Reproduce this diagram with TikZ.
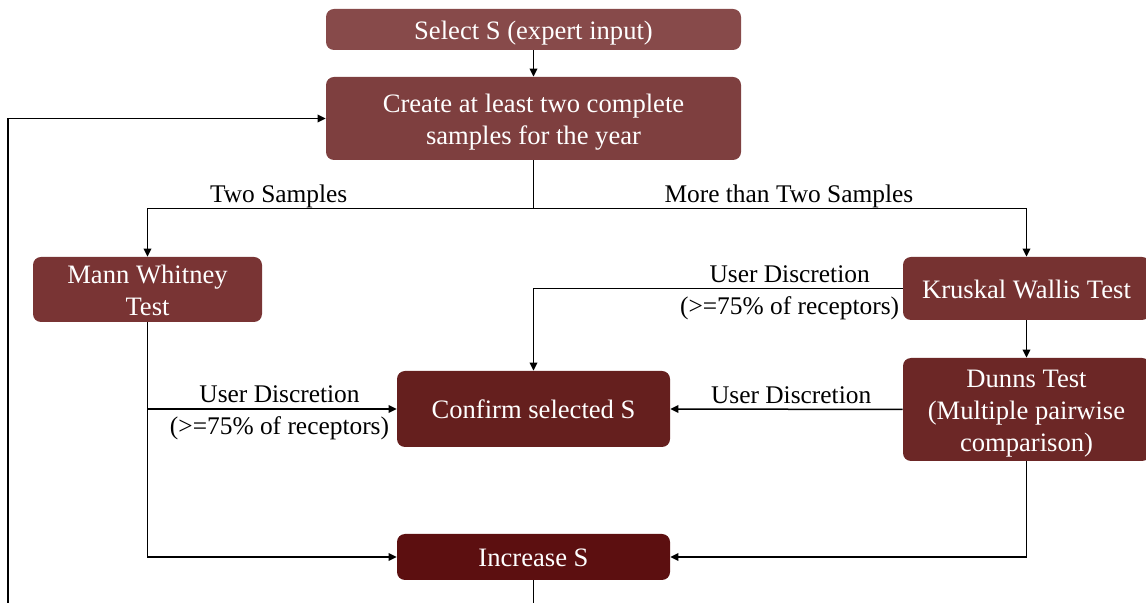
\documentclass[tikz,border=0pt]{standalone}
\usepackage{fontspec}
\setmainfont{Liberation Serif}
\usepackage{tikz}
\usetikzlibrary{arrows.meta}
\colorlet{csel}{rgb,255:red,135;green,74;blue,74}
\colorlet{ccreate}{rgb,255:red,126;green,63;blue,63}
\colorlet{cmann}{rgb,255:red,121;green,52;blue,52}
\colorlet{ckrus}{rgb,255:red,118;green,50;blue,49}
\colorlet{cdunn}{rgb,255:red,108;green,39;blue,38}
\colorlet{cconf}{rgb,255:red,101;green,31;blue,30}
\colorlet{cinc}{rgb,255:red,92;green,15;blue,16}
\tikzstyle{stage}=[rounded corners=4pt,inner sep=0pt,text=white,align=center,font=\fontsize{13.3}{16}\selectfont,
  text height=12.6pt,text depth=3pt]
\tikzstyle{two lines}=[text height=28.6pt]
\tikzstyle{three lines}=[text height=44.6pt]
\tikzstyle{lbl}=[inner sep=0pt,align=center,font=\fontsize{12.7}{16}\selectfont,text height=28.6pt,text depth=3pt]
\tikzstyle{toplbl}=[inner sep=0pt,text depth=2.6pt,font=\fontsize{12.7}{16}\selectfont,above]
\tikzstyle{rw}=[line width=.75pt,-{Triangle[length=4pt,width=3.8pt]}]
\begin{document}
\begin{tikzpicture}[x=.5pt,y=-.5pt]
	\clip (0,0) rectangle (1146,603);
	\node[stage,fill=csel,minimum width=207.5pt,minimum height=20.5pt] (sel) at (533.5,29.5) {Select S (expert input)};
	\node[stage,two lines,fill=ccreate,minimum width=207.5pt,minimum height=41.5pt] (create) at (533.5,118.5) {Create at least two complete\\samples for the year};
	\node[stage,two lines,fill=cmann,minimum width=114.5pt,minimum height=32.5pt] (mann) at (147.5,289.5) {Mann Whitney\\Test};
	\node[stage,fill=ckrus,minimum width=123.5pt,minimum height=31.5pt] (krus) at (1026.5,288.5) {Kruskal Wallis Test};
	\node[stage,three lines,fill=cdunn,minimum width=123.5pt,minimum height=51.5pt] (dunn) at (1026.5,409.5) {Dunns Test\\(Multiple pairwise\\comparison)};
	\node[stage,fill=cconf,minimum width=136.5pt,minimum height=38pt] (conf) at (533.5,409) {Confirm selected S};
	\node[stage,fill=cinc,minimum width=136.5pt,minimum height=23pt] (inc) at (533.5,557) {Increase S};
	\coordinate (split) at (533.5,208.5);
	\coordinate (loop) at (8,650);
	\draw[rw] (sel) -- (create);
	\draw[rw] (create.south) -- (split) -| node[pos=.33,toplbl]{Two Samples} (mann.north);
	\draw[rw] (split) -| node[pos=.259,toplbl]{More than Two Samples} (krus.north);
	\draw[rw] (krus) -- (dunn);
	\draw[rw] (krus.west) -| node[pos=.153,lbl]{User Discretion\\(>=75\% of receptors)} (conf.north);
	\draw[rw] (mann.south) |- node[pos=.765,lbl]{User Discretion\\(>=75\% of receptors)} (conf.west);
	\draw[rw] (mann.south) |- (inc.west);
	\draw[rw] (dunn.west) -- node[pos=.48,toplbl]{User Discretion} (conf.east);
	\draw[rw] (dunn.south) |- (inc.east);
	\draw[rw] (inc.south) |- (loop) |- (create.west);
\end{tikzpicture}
\end{document}
